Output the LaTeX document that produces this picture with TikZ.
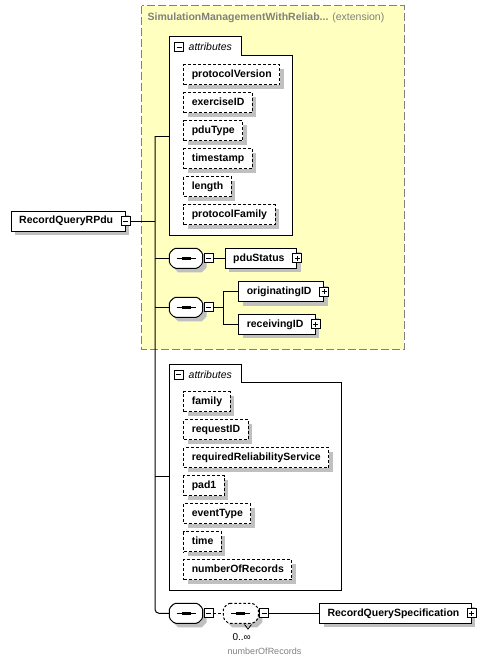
\documentclass[tikz,border=0pt]{standalone}
\usepackage{fontspec}
\setmainfont{Liberation Sans}
\definecolor{extfill}{RGB}{255,255,192}
\definecolor{extline}{RGB}{128,128,128}
\definecolor{shadowgray}{RGB}{192,192,192}
% element box with its grey shadow drawn first
\newcommand{\elemnode}[4][]{%
  \node[elem, #1, draw=none, fill=shadowgray, xshift=4pt, yshift=-4pt] at (#3) {\phantom{#4}};
  \node[elem, #1] (#2) at (#3) {#4};}
\tikzset{
  conn/.style={line width=1pt},
  elem/.style={draw, fill=white, line width=1pt, font=\fontsize{10.5}{12}\selectfont\bfseries,
    minimum height=20, text height=8, text depth=2.5, inner xsep=8, inner ysep=0, anchor=west},
  expand/.style={execute at end node={\hspace*{4pt}}},
  attr/.style={dash pattern=on 3pt off 2pt},
  pmbox/.style={draw, fill=white, line width=1pt, minimum size=9, inner sep=0},
  minus/.style={pmbox, path picture={
    \draw[line width=1pt] ([xshift=2]path picture bounding box.west) -- ([xshift=-2]path picture bounding box.east);}},
  plus/.style={pmbox, path picture={
    \draw[line width=1pt] ([xshift=2]path picture bounding box.west) -- ([xshift=-2]path picture bounding box.east);
    \draw[line width=1pt] ([yshift=-2]path picture bounding box.north) -- ([yshift=2]path picture bounding box.south);}},
  grp/.style={draw, fill=white, line width=1pt},
  grplabel/.style={anchor=west, inner sep=0, font=\fontsize{10.5}{12}\selectfont\itshape},
  pics/seqpic/.style args={#1/#2}{code={
    \fill[shadowgray, shift={(4,4)}] (-#1+5,-10) -- (#1-5,-10) -- (#1,-5) -- (#1,5) -- (#1-5,10) -- (-#1+5,10) -- (-#1,5) -- (-#1,-5) -- cycle;
    \draw[line width=1pt, fill=white, rounded corners=1.5pt, #2] (-#1+5,-10) -- (#1-5,-10) -- (#1,-5) -- (#1,5) -- (#1-5,10) -- (-#1+5,10) -- (-#1,5) -- (-#1,-5) -- cycle;
    \draw[line width=1pt] (-9.5,0) -- (9.5,0);
    \foreach \d in {-3,0,3}
      \fill (\d-1.5,-1.5) rectangle (\d+1.5,1.5);
    \coordinate (-west) at (-#1,0);
    \coordinate (-east) at (#1,0);
  }}
}
\begin{document}
\begin{tikzpicture}[x=1pt, y=-1pt]
  \useasboundingbox (0,0) rectangle (500,664);

  %%%%% extension %%%%%
  \draw[fill=extfill, draw=extline, line width=1.2pt, dash pattern=on 8pt off 3pt] (141.7,5.7) rectangle (404.3,349.3);
  \node[anchor=west, inner sep=0, text=extline, font=\fontsize{10.5}{12}\selectfont] (exttitle) at (147.5,18)
    {\textbf{SimulationManagementWithReliab...} (extension)};

  %%%%% first attributes %%%%%
  \draw[grp] (169.3,36.7) -- (241.3,36.7) -- (241.3,55) -- (292.3,55) -- (292.3,235.3) -- (169.3,235.3) -- cycle;
  \node[minus] (agm1) at (179,47) {};
  \node[grplabel] (agl1) at (188.5,47) {attributes};
  \coordinate (ag1) at (169.3,136);
  \foreach \name [count=\i from 0] in {protocolVersion,exerciseID,pduType,timestamp,length,protocolFamily}
    {\elemnode[attr]{a1-\i}{183.3,74.7+28*\i}{\name}}

  %%%%% second attributes %%%%%
  \draw[grp] (169.3,364) -- (241.7,364) -- (241.7,382.3) -- (341.7,382.3) -- (341.7,590) -- (169.3,590) -- cycle;
  \node[minus] (agm2) at (178.7,374.7) {};
  \node[grplabel] (agl2) at (188.5,374.7) {attributes};
  \coordinate (ag2) at (169.3,476.7);
  \foreach \name [count=\i from 0] in {family,requestID,requiredReliabilityService,pad1,eventType,time,numberOfRecords}
    {\elemnode[attr]{a2-\i}{183.3,401.7+28*\i}{\name}}

  %%%%% root %%%%%
  \elemnode[expand]{rqpdu}{10.7,221}{RecordQueryRPdu}
  \node[minus] (rqm) at (rqpdu.east) {};
  \coordinate (trunk) at (155,136);
  \coordinate (trunkend) at (155,613.3);

  %%%%% sequences %%%%%
  \pic (s1) at (186,258.3) {seqpic=16.7/{}};
  \node[minus] (m1) at (208.7,258.3) {};
  \elemnode[expand]{pdustatus}{224.7,258.3}{pduStatus}
  \node[plus] (p1) at (pdustatus.east) {};

  \pic (s2) at (186,307.3) {seqpic=16.7/{}};
  \node[minus] (m2) at (208.7,307.3) {};
  \coordinate (br) at (223.3,307.3);
  \elemnode[expand]{orig}{238.3,291.7}{originatingID}
  \node[plus] (p2) at (orig.east) {};
  \elemnode[expand]{recv}{238.3,324.3}{receivingID}
  \node[plus] (p3) at (recv.east) {};

  \pic (s3) at (186,613.3) {seqpic=16.7/{}};
  \node[minus] (m3) at (208.7,613.3) {};
  \pic (s4) at (240.8,613.3) {seqpic=17.5/{dash pattern=on 2.5pt off 2pt}};
  \draw[line width=0.8pt] (244.5,624.5) -- (248,629) -- (251.5,624.5);
  \node[minus] (m4) at (264,613.3) {};
  \elemnode[expand]{rqspec}{319,613.3}{RecordQuerySpecification}
  \node[plus] (p4) at (rqspec.east) {};
  \node[inner sep=0, font=\fontsize{10}{12}\selectfont] (card) at (241.7,637) {0..∞};
  \node[inner sep=0, text=extline, font=\fontsize{9}{11}\selectfont] (cardname) at (264.5,651.7) {numberOfRecords};

  %%%%% connectors %%%%%
  \draw[conn] (ag1) -- (trunk);
  \draw[conn, rounded corners=4pt] (trunk) -- (trunkend) -- (s3-west);
  \draw[conn] (rqm.east) -- (rqm.east -| trunk);
  \draw[conn] (s1-west) -- (s1-west -| trunk);
  \draw[conn] (s2-west) -- (s2-west -| trunk);
  \draw[conn] (ag2) -- (ag2 -| trunk);
  \draw[conn] (m1.east) -- (pdustatus.west);
  \draw[conn] (m2.east) -- (br);
  \draw[conn] (orig.west) -| (br) |- (recv.west);
  \draw[conn, dash pattern=on 2.5pt off 2pt] (m3.east) -- (s4-west);
  \draw[conn] (m4.east) -- (rqspec.west);
\end{tikzpicture}
\end{document}
